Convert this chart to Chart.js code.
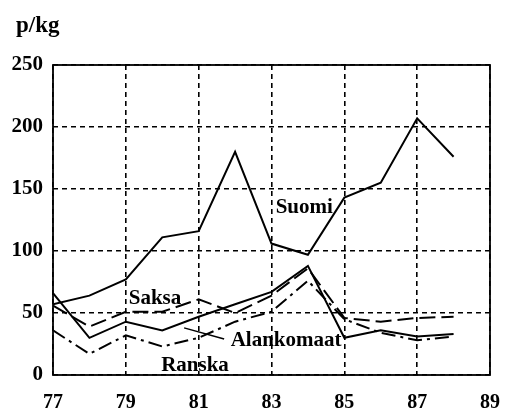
<!DOCTYPE html>
<html>
<head>
<meta charset="utf-8">
<script src="https://cdn.jsdelivr.net/npm/chart.js@4"></script>
<style>
  html, body { margin: 0; padding: 0; background: #fff; }
  #wrap { width: 509px; height: 414px; position: relative; }
</style>
</head>
<body>
<div id="wrap"><canvas id="c" width="509" height="414"></canvas></div>
<script>
// Data
const years = [77, 78, 79, 80, 81, 82, 83, 84, 85, 86, 87, 88];
const suomi = [57, 64, 77, 111, 116, 180, 106, 97, 143, 155, 207, 176];
const saksa = [56, 39, 51, 51, 61, 50, 64, 86, 46, 43, 46, 47];
const alankomaat = [66, 30, 43, 36, 47, 57, 67, 88, 30, 36, 31, 33];
const ranska = [36, 17, 32, 23, 30, 43, 51, 76, 45, 34, 28, 31];
const xTicks = [77, 79, 81, 83, 85, 87, 89];
const yTicks = [0, 50, 100, 150, 200, 250];
const unitLabel = 'p/kg';
// series labels placed in data space: [text, x, y]
const seriesLabels = [
  ['Suomi', 83.9, 135],
  ['Saksa', 79.8, 62],
  ['Alankomaat', 83.4, 28],
  ['Ranska', 80.9, 8]
];
// leader from Alankomaat label to its line (data space)
const leader = [[80.6, 38], [81.7, 29]];

const FONT = '"Liberation Serif", "Times New Roman", serif';

function pts(arr) { return years.map((y, i) => ({ x: y, y: arr[i] })); }

const ds = (label, arr, dash) => ({
  label, data: pts(arr), borderColor: '#000', borderWidth: 2,
  borderDash: dash, pointRadius: 0, tension: 0, fill: false
});

const overlay = {
  id: 'overlay',
  afterDatasetsDraw(chart) {
    const { ctx, chartArea: a, scales: { x, y } } = chart;
    ctx.save();
    // frame
    ctx.strokeStyle = '#000';
    ctx.lineWidth = 1.8;
    ctx.setLineDash([]);
    ctx.strokeRect(a.left, a.top, a.right - a.left, a.bottom - a.top);
    // leader
    ctx.lineWidth = 1.5;
    ctx.beginPath();
    ctx.moveTo(x.getPixelForValue(leader[0][0]), y.getPixelForValue(leader[0][1]));
    ctx.lineTo(x.getPixelForValue(leader[1][0]), y.getPixelForValue(leader[1][1]));
    ctx.stroke();
    // labels
    ctx.fillStyle = '#000';
    ctx.font = 'bold 21px ' + FONT;
    ctx.textAlign = 'center';
    ctx.textBaseline = 'middle';
    seriesLabels.forEach(([t, vx, vy]) => {
      ctx.fillText(t, x.getPixelForValue(vx), y.getPixelForValue(vy));
    });
    // unit label
    ctx.font = 'bold 23px ' + FONT;
    ctx.textAlign = 'left';
    ctx.textBaseline = 'alphabetic';
    ctx.fillText(unitLabel, 16, 32);
    ctx.restore();
  }
};

new Chart(document.getElementById('c'), {
  type: 'line',
  data: {
    datasets: [
      ds('Suomi', suomi, []),
      ds('Saksa', saksa, [16, 6]),
      ds('Alankomaat', alankomaat, []),
      ds('Ranska', ranska, [14, 5, 3, 5])
    ]
  },
  options: {
    responsive: false,
    animation: false,
    devicePixelRatio: 1,
    layout: { padding: { left: 0, right: 19, top: 65, bottom: 0 } },
    plugins: { legend: { display: false }, tooltip: { enabled: false } },
    scales: {
      x: {
        type: 'linear', min: 77, max: 89,
        afterBuildTicks(s) { s.ticks = xTicks.map(v => ({ value: v })); },
        afterFit(s) { s.height = 39; s.paddingRight = 0; s.paddingLeft = 0; },
        grid: { color: '#000', lineWidth: 1.6, drawTicks: false },
        border: { display: false, dash: [5, 4] },
        ticks: {
          color: '#000', padding: 16, maxRotation: 0,
          font: { family: FONT, size: 20, weight: 'bold' },
          callback: v => String(v)
        }
      },
      y: {
        min: 0, max: 250,
        afterBuildTicks(s) { s.ticks = yTicks.map(v => ({ value: v })); },
        afterFit(s) { s.width = 53; s.paddingTop = 0; s.paddingBottom = 0; },
        grid: { color: '#000', lineWidth: 1.6, drawTicks: false },
        border: { display: false, dash: [5, 4] },
        ticks: {
          color: '#000', padding: 10,
          font: { family: FONT, size: 21, weight: 'bold' },
          callback: v => String(v)
        }
      }
    }
  },
  plugins: [overlay]
});
</script>
</body>
</html>
